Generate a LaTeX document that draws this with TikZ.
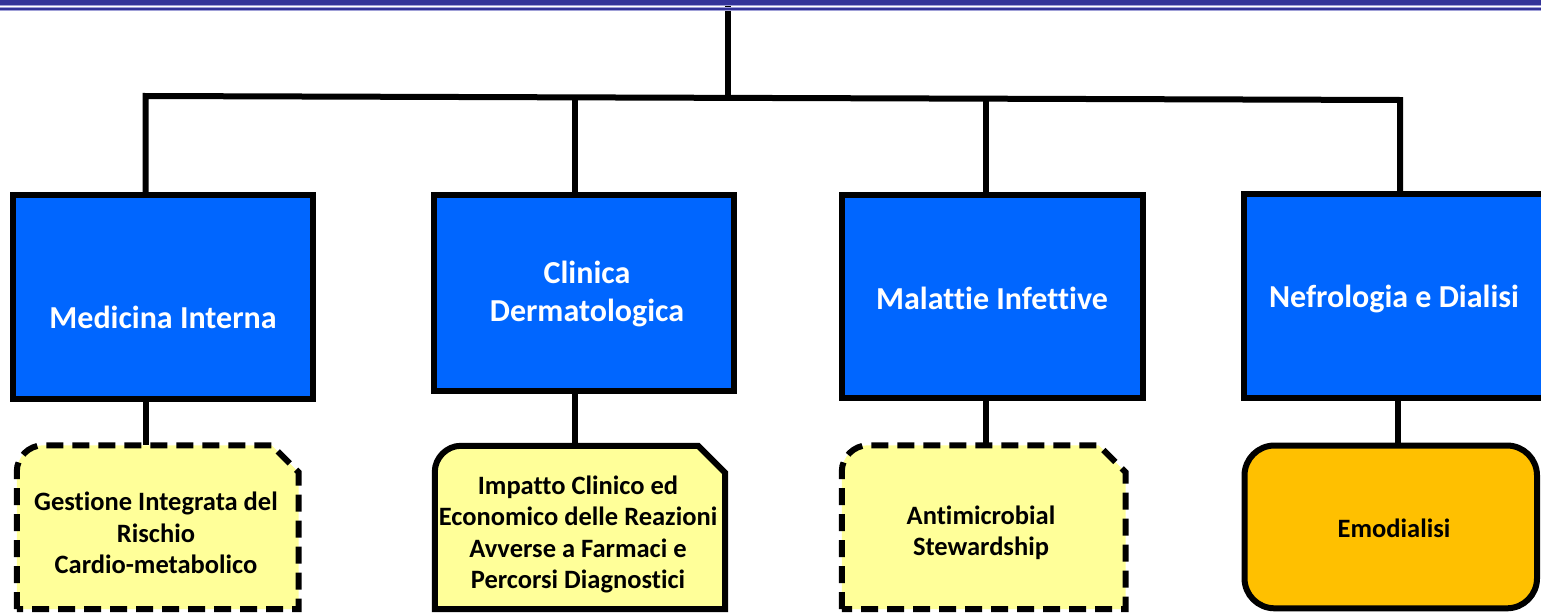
\documentclass[tikz,border=0pt]{standalone}
\usepackage{fontspec}
\setmainfont{Carlito}[Ligatures=NoCommon]
\definecolor{hdr}{RGB}{51,51,153}
\definecolor{hdrl}{RGB}{160,160,215}
\definecolor{boxblue}{RGB}{0,102,255}
\definecolor{paleyel}{RGB}{255,255,153}
\definecolor{amber}{RGB}{255,192,0}
\newcommand\snipoutline[2]{%
  \draw[#2] (#1.south west) -- ([yshift=-26pt]#1.north west)
    .. controls ([yshift=-12pt]#1.north west) and ([xshift=12pt]#1.north west) ..
    ([xshift=26pt]#1.north west) -- ([xshift=-27pt]#1.north east)
    -- ([yshift=-27pt]#1.north east) -- (#1.south east) -- cycle;}
\begin{document}
\begin{tikzpicture}[x=1pt,y=-1pt,
  conn/.style={draw=black,line width=6pt,line join=miter},
  dept/.style={draw=black,fill=boxblue,line width=6pt,inner sep=0pt},
  depttext/.style={text=white,font=\fontsize{32}{38}\selectfont\bfseries,align=center,inner sep=0pt},
  cellarea/.style={draw=none,inner sep=0pt},
  cellfill/.style={fill=paleyel,draw=black,line width=6pt,line join=miter},
  celldash/.style={cellfill,dash pattern=on 17pt off 9pt},
  celltext/.style={text=black,font=\fontsize{26.5}{31.5}\selectfont\bfseries,align=center,inner sep=0pt},
  amberbox/.style={draw=black,fill=amber,line width=6pt,rounded corners=30pt,inner sep=0pt}]
\useasboundingbox (0,0) rectangle (1541,613);
\clip (0,0) rectangle (1541,613);
\fill[white] (0,0) rectangle (1541,613);
% junction coordinates
\coordinate (top) at (728,4);
\coordinate (jt) at (728,97.9);
\coordinate (j1) at (145.5,96);
\coordinate (j2) at (575,97.4);
\coordinate (j3) at (986,98.7);
\coordinate (j4) at (1400,100);
\coordinate (k1) at (145.5,400);
\coordinate (k2) at (575,400);
\coordinate (k3) at (985.5,400);
\coordinate (k4) at (1398,400);
% department boxes (named geometry)
\path (163,296.5) node[minimum width=300pt,minimum height=204pt,inner sep=0pt] (b1) {};
\path (584,292.75) node[minimum width=300pt,minimum height=196.5pt,inner sep=0pt] (b2) {};
\path (992.5,296.25) node[minimum width=301pt,minimum height=203.5pt,inner sep=0pt] (b3) {};
\path (1402,296.4) node[minimum width=316pt,minimum height=204pt,inner sep=0pt] (b4) {};
% cell areas
\path (157.75,527.25) node[cellarea,minimum width=281.5pt,minimum height=163.5pt] (y1) {};
\path (580,527.5) node[cellarea,minimum width=290pt,minimum height=163pt] (y2) {};
\path (983.75,527.25) node[cellarea,minimum width=283.5pt,minimum height=163.5pt] (y3) {};
% connectors
\draw[conn] (top) -- (jt);
\draw[conn] (b1.north -| j1) -- (j1) -- (j4) -- (b4.north -| j4);
\draw[conn] (j2) -- (b2.north -| j2);
\draw[conn] (j3) -- (b3.north -| j3);
\draw[conn] (b1.south -| k1) -- (y1.north -| k1);
\draw[conn] (b2.south -| k2) -- (y2.north -| k2);
\draw[conn] (b3.south -| k3) -- (y3.north -| k3);
\draw[conn] (b4.south -| k4) -- (k4 |- 447,447);
% header
\fill[hdr] (0,0) rectangle (1541,4.7);
\fill[hdrl] (0,4.7) rectangle (1541,5.6);
\fill[hdrl] (0,7.3) rectangle (1541,11);
\fill[hdr] (0,8) rectangle (1541,10.2);
% department boxes drawn
\path (163,296.5) node[dept,minimum width=300pt,minimum height=204pt] {};
\path (584,292.75) node[dept,minimum width=300pt,minimum height=196.5pt] {};
\path (992.5,296.25) node[dept,minimum width=301pt,minimum height=203.5pt] {};
\path (1402,296.4) node[dept,minimum width=316pt,minimum height=204pt] {};
\node[depttext] (t1) at (163,317) {Medicina Interna};
\node[depttext] (t2) at (587,294) {Clinica\\Dermatologica};
\node[depttext] (t3) at (992,298) {Malattie Infettive};
\node[depttext] (t4) at (1394,299) {Nefrologia e Dialisi};
% cells
\snipoutline{y1}{celldash}
\snipoutline{y2}{cellfill}
\snipoutline{y3}{celldash}
\node[amberbox,minimum width=292.5pt,minimum height=162.8pt] (y4) at (1390.75,526.9) {};
\node[celltext] (c1) at (156,533) {Gestione Integrata del\\Rischio\\Cardio-metabolico};
\node[celltext] (c2) at (578,534.5) {Impatto Clinico ed\\Economico delle Reazioni\\Avverse a Farmaci e\\Percorsi Diagnostici};
\node[celltext] (c3) at (981,533) {Antimicrobial\\Stewardship};
\node[celltext] (c4) at (1394,528) {Emodialisi};
\end{tikzpicture}
\end{document}
